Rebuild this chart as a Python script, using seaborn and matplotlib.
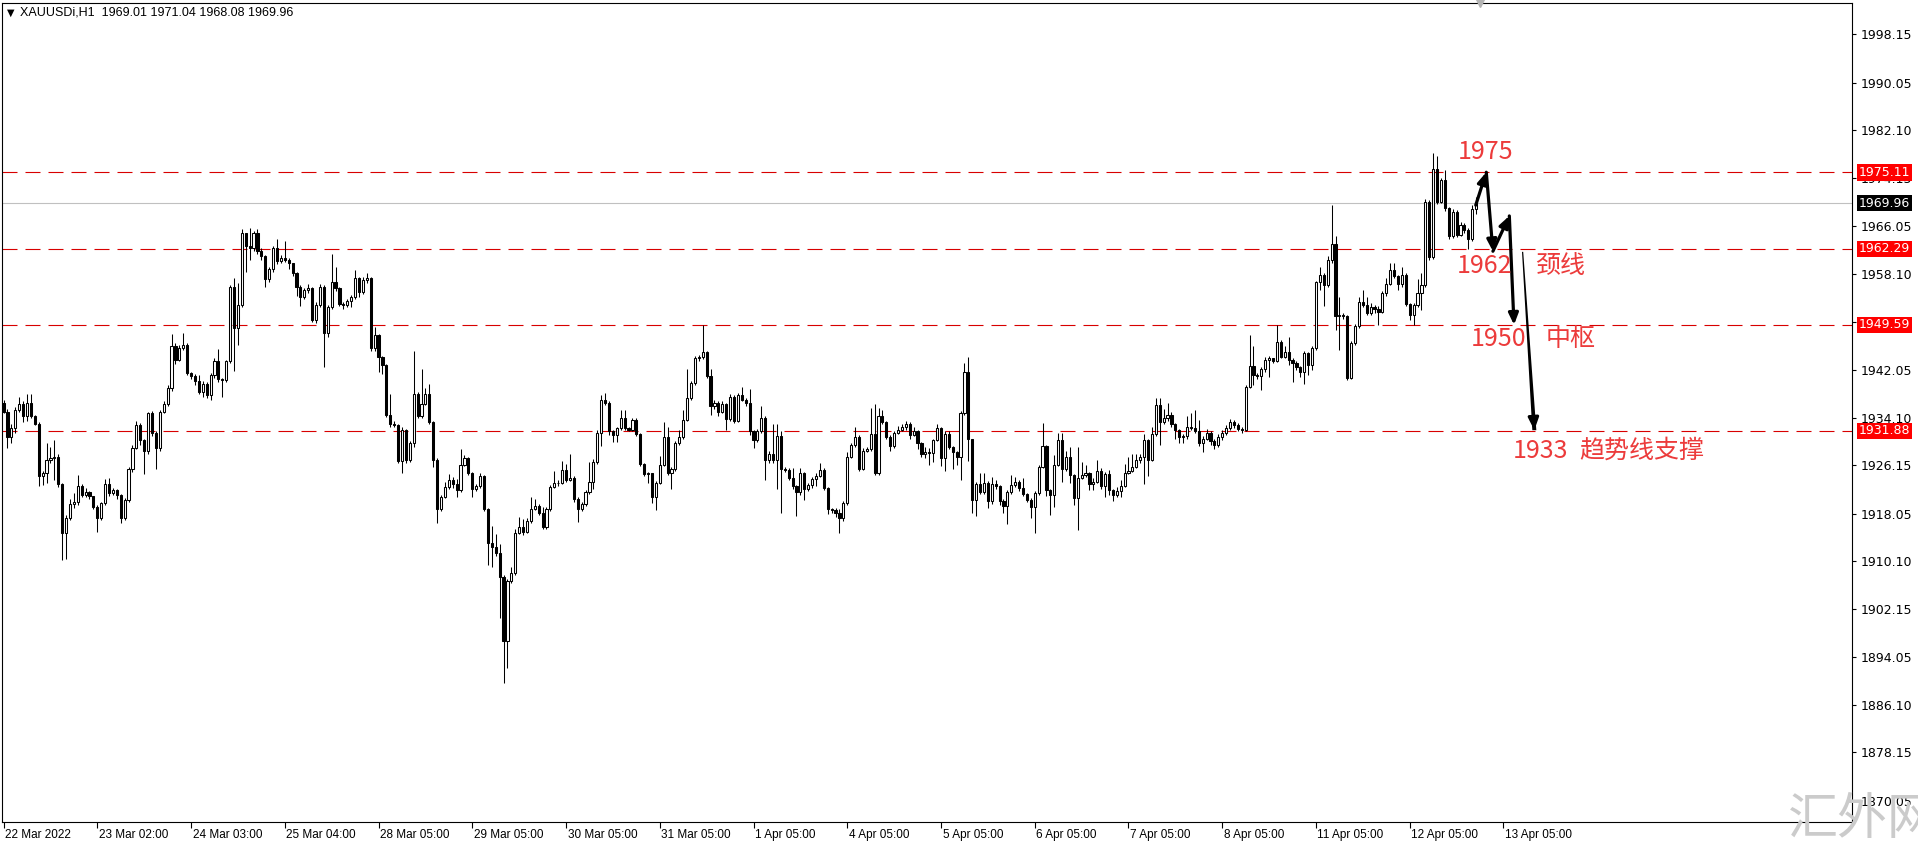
import numpy as np
import pandas as pd
import matplotlib
matplotlib.use('Agg')
from matplotlib import pyplot as plt
from matplotlib import transforms
import seaborn as sns

sns.set_theme(context='paper', style='white')
plt.rcParams['font.family'] = ['DejaVu Sans']

# XAUUSDi H1 candles (open = previous close)
first_open = 1936.6
close = [
    1935.1, 1930.8, 1932.4, 1935.4, 1936.4, 1934.4, 1936.6, 1934.3, 1933.1, 1924.4,
    1924.8, 1927.0, 1927.3, 1927.6, 1923.0, 1914.8, 1917.4, 1919.7, 1920.0, 1922.7,
    1921.2, 1921.6, 1921.0, 1919.2, 1917.4, 1919.8, 1923.0, 1921.5, 1922.0, 1921.1,
    1917.3, 1920.3, 1925.5, 1929.1, 1932.9, 1930.3, 1928.5, 1934.8, 1931.5, 1929.1,
    1935.1, 1936.4, 1939.0, 1946.1, 1943.8, 1945.8, 1946.2, 1941.6, 1941.1, 1940.2,
    1938.4, 1939.8, 1937.9, 1941.2, 1943.6, 1940.5, 1940.4, 1943.5, 1955.9, 1949.0,
    1953.0, 1964.9, 1962.7, 1962.5, 1964.9, 1962.0, 1961.1, 1957.2, 1958.9, 1962.4,
    1960.2, 1960.7, 1960.5, 1959.9, 1958.3, 1955.9, 1954.3,
    1955.4, 1955.7, 1950.4, 1952.9, 1956.0, 1948.2, 1952.6, 1956.8, 1955.7, 1953.1,
    1952.9, 1953.6, 1954.3, 1957.4, 1955.1, 1957.1, 1957.4, 1945.7, 1947.9, 1944.2,
    1942.9, 1934.6, 1933.0, 1932.9, 1926.9, 1932.0, 1927.0, 1929.8, 1938.0, 1934.3,
    1936.4, 1938.0, 1933.3, 1927.1, 1918.8, 1920.9, 1922.5, 1923.7, 1923.0, 1922.0,
    1926.2, 1927.4, 1924.9, 1922.1, 1922.6, 1924.3, 1918.9, 1913.2, 1912.4, 1911.5,
    1907.5, 1896.7, 1906.8, 1908.2, 1914.9, 1915.9, 1915.0, 1916.9, 1918.9, 1919.3,
    1918.2, 1915.9, 1918.8, 1922.5, 1923.1, 1923.2, 1925.4, 1923.7, 1924.0, 1920.5,
    1918.9, 1919.6, 1921.6, 1923.4,
    1926.7, 1931.5, 1937.1, 1936.6, 1931.8, 1931.2, 1932.3, 1934.0, 1932.3, 1932.1,
    1933.7, 1931.4, 1926.4, 1924.7, 1924.8, 1920.8, 1923.2, 1926.2, 1930.9, 1924.9,
    1925.5, 1929.9, 1930.8, 1933.7, 1937.3, 1939.9, 1944.0, 1944.2, 1945.0, 1941.1,
    1936.0, 1936.6, 1935.1, 1936.4, 1933.8, 1937.6, 1933.6, 1937.9, 1937.1, 1936.5,
    1931.9, 1930.3, 1931.8, 1934.0, 1927.0, 1928.1, 1927.0, 1931.0, 1925.5, 1925.4,
    1924.0, 1922.6, 1921.6, 1924.9, 1922.1, 1922.8, 1923.8, 1924.4, 1925.3, 1922.3,
    1918.8, 1918.6, 1918.2, 1917.3, 1919.8, 1927.6, 1929.5, 1930.9, 1925.5, 1928.6,
    1928.8, 1931.4, 1924.9, 1934.4, 1933.4, 1930.9, 1929.3, 1931.6,
    1932.1, 1932.6, 1933.0, 1931.2, 1931.9, 1929.8, 1928.0, 1928.4, 1928.2, 1930.4,
    1932.3, 1927.3, 1931.4, 1929.2, 1928.4, 1927.5, 1934.8, 1941.8, 1930.5, 1920.4,
    1923.0, 1921.7, 1923.2, 1920.1, 1923.0, 1922.7, 1920.2, 1919.3, 1921.7, 1922.8,
    1923.4, 1922.4, 1921.3, 1920.4, 1919.2, 1921.5, 1925.9, 1929.4, 1922.0, 1921.1,
    1926.2, 1930.3, 1925.5, 1927.6, 1924.5, 1920.6, 1924.0, 1924.5, 1924.9, 1923.0,
    1923.4, 1925.2, 1922.6, 1924.7, 1922.0, 1921.2, 1921.9, 1922.7, 1924.8, 1925.2,
    1925.8, 1927.1, 1927.5, 1930.4, 1927.1, 1931.4, 1936.2, 1933.4, 1934.0, 1934.5,
    1933.0, 1932.0, 1930.9, 1931.0, 1932.5, 1932.4, 1931.8, 1929.8, 1930.6,
    1931.5, 1930.2, 1929.5, 1930.8, 1931.6, 1932.4, 1933.3, 1932.9, 1932.2, 1932.0,
    1939.2, 1942.7, 1941.2, 1941.1, 1942.2, 1943.8, 1944.0, 1943.6, 1946.8, 1944.3,
    1945.1, 1943.8, 1943.3, 1942.5, 1941.8, 1944.9, 1942.9, 1945.7, 1956.7, 1957.9,
    1956.3, 1960.4, 1963.1, 1951.1, 1951.3, 1951.1, 1940.7, 1946.5, 1949.4, 1953.5,
    1952.9, 1951.6, 1952.6, 1952.2, 1951.8, 1954.9, 1956.4, 1958.8, 1957.7, 1956.4,
    1957.9, 1953.1, 1951.2, 1952.9, 1954.9, 1956.3, 1970.2, 1961.0, 1975.6, 1970.2,
    1973.8, 1969.1, 1964.4, 1968.5, 1964.6, 1966.3, 1965.4, 1963.9, 1969.0, 1969.96,
]
high = [
    1937.0, 1935.5, 1933.0, 1935.9, 1937.5, 1936.8, 1938.0, 1938.0, 1934.5, 1933.3,
    1925.2, 1929.8, 1929.2, 1930.4, 1928.0, 1923.2, 1917.8, 1920.5, 1921.5, 1924.5,
    1923.0, 1922.4, 1921.8, 1921.0, 1919.5, 1920.0, 1923.8, 1924.0, 1922.3, 1922.2,
    1921.3, 1920.6, 1925.8, 1929.5, 1933.6, 1933.2, 1930.6, 1935.0, 1935.2, 1931.8,
    1935.4, 1936.8, 1939.5, 1948.0, 1946.5, 1946.3, 1948.3, 1946.5, 1941.8, 1941.4,
    1941.3, 1940.2, 1940.0, 1941.5, 1944.0, 1945.6, 1940.8, 1943.8, 1956.3, 1957.5,
    1956.6, 1965.6, 1965.0, 1965.8, 1965.3, 1965.6, 1962.4, 1961.3, 1959.3, 1962.8,
    1963.9, 1961.2, 1963.6, 1960.7, 1960.0, 1958.5, 1956.2,
    1955.8, 1956.5, 1956.0, 1953.5, 1956.4, 1956.3, 1953.0, 1961.4, 1959.3, 1955.9,
    1953.4, 1954.0, 1954.6, 1958.8, 1957.6, 1957.6, 1958.2, 1957.6, 1949.3, 1948.0,
    1944.4, 1943.0, 1938.0, 1933.5, 1933.0, 1932.5, 1932.2, 1930.2, 1945.2, 1938.3,
    1942.2, 1939.0, 1939.7, 1933.5, 1927.3, 1921.2, 1923.4, 1924.7, 1924.2, 1923.8,
    1928.9, 1927.8, 1927.6, 1925.0, 1923.0, 1924.8, 1924.5, 1919.0, 1916.0, 1914.7,
    1913.0, 1907.8, 1907.2, 1909.2, 1915.5, 1917.5, 1917.1, 1917.3, 1920.9, 1920.5,
    1919.6, 1919.2, 1919.2, 1922.8, 1925.1, 1923.6, 1926.9, 1926.4, 1928.0, 1924.3,
    1920.8, 1920.0, 1922.0, 1926.7,
    1927.2, 1932.0, 1937.9, 1938.2, 1936.9, 1932.0, 1932.6, 1935.4, 1935.4, 1932.5,
    1934.0, 1934.0, 1931.6, 1926.6, 1925.0, 1924.9, 1923.5, 1927.7, 1933.4, 1932.6,
    1925.8, 1930.2, 1932.0, 1935.4, 1942.2, 1940.3, 1944.4, 1944.6, 1949.6, 1945.3,
    1942.3, 1937.0, 1936.8, 1936.8, 1936.6, 1938.0, 1937.8, 1938.2, 1939.2, 1937.4,
    1938.8, 1932.0, 1932.2, 1936.0, 1934.3, 1928.5, 1933.0, 1933.0, 1931.8, 1925.9,
    1925.6, 1925.6, 1922.8, 1925.6, 1925.0, 1923.2, 1924.2, 1924.8, 1926.5, 1925.6,
    1922.5, 1919.0, 1919.0, 1918.8, 1920.2, 1928.4, 1929.9, 1932.6, 1931.2, 1929.0,
    1929.2, 1935.7, 1936.4, 1935.7, 1935.4, 1933.6, 1931.2, 1931.9,
    1932.7, 1933.0, 1933.6, 1933.3, 1932.6, 1932.1, 1930.0, 1929.2, 1929.0, 1930.6,
    1933.1, 1932.5, 1931.8, 1931.8, 1929.4, 1928.5, 1935.2, 1943.2, 1944.2, 1930.6,
    1923.4, 1924.9, 1924.8, 1923.5, 1924.2, 1923.6, 1922.8, 1920.5, 1922.0, 1924.5,
    1924.1, 1923.6, 1924.0, 1921.5, 1920.6, 1921.8, 1926.2, 1933.2, 1929.6, 1922.2,
    1927.9, 1931.6, 1931.6, 1928.6, 1929.2, 1924.7, 1929.2, 1926.7, 1926.2, 1925.0,
    1924.0, 1927.0, 1925.6, 1925.0, 1925.3, 1922.2, 1922.5, 1923.7, 1926.4, 1927.6,
    1928.0, 1928.1, 1928.1, 1931.4, 1930.6, 1932.6, 1937.3, 1937.3, 1935.5, 1936.5,
    1935.1, 1933.2, 1932.2, 1931.3, 1934.3, 1934.8, 1935.3, 1933.7, 1931.0,
    1932.2, 1931.8, 1930.6, 1931.3, 1932.0, 1932.9, 1933.8, 1933.7, 1933.2, 1932.6,
    1939.6, 1947.9, 1946.0, 1941.6, 1942.6, 1944.3, 1944.4, 1944.1, 1949.6, 1947.1,
    1946.0, 1947.5, 1944.0, 1943.6, 1942.8, 1945.3, 1945.1, 1946.0, 1957.0, 1959.2,
    1958.2, 1961.1, 1969.6, 1964.4, 1954.2, 1951.6, 1951.3, 1946.9, 1949.8, 1954.2,
    1955.5, 1954.2, 1953.2, 1953.0, 1952.8, 1955.2, 1957.4, 1960.0, 1960.0, 1957.9,
    1959.3, 1958.2, 1953.3, 1953.2, 1957.2, 1958.2, 1970.6, 1970.5, 1978.3, 1977.8,
    1974.2, 1975.5, 1969.3, 1968.9, 1968.8, 1966.8, 1966.7, 1965.8, 1969.6, 1971.04,
]
low = [
    1934.8, 1929.0, 1929.8, 1931.5, 1935.0, 1933.3, 1933.5, 1934.0, 1932.8, 1922.6,
    1922.8, 1923.1, 1926.5, 1923.7, 1922.5, 1910.3, 1910.4, 1917.0, 1919.0, 1919.5,
    1920.8, 1920.9, 1920.5, 1918.8, 1915.0, 1917.0, 1919.5, 1921.0, 1921.2, 1920.5,
    1916.5, 1917.0, 1920.0, 1925.0, 1928.8, 1929.5, 1924.7, 1928.0, 1931.0, 1925.5,
    1928.5, 1934.8, 1936.0, 1938.5, 1943.0, 1943.5, 1945.4, 1941.2, 1940.5, 1939.6,
    1938.0, 1937.5, 1937.3, 1937.0, 1940.8, 1940.0, 1937.5, 1940.0, 1943.2, 1941.9,
    1946.2, 1952.5, 1958.5, 1960.4, 1962.0, 1961.5, 1960.5, 1955.9, 1956.8, 1958.5,
    1959.7, 1960.0, 1960.1, 1959.0, 1957.8, 1954.5, 1952.8,
    1954.0, 1955.0, 1950.0, 1949.9, 1952.5, 1942.6, 1947.5, 1952.3, 1955.2, 1952.7,
    1952.3, 1952.6, 1952.5, 1954.0, 1954.2, 1954.8, 1956.6, 1945.3, 1945.2, 1941.8,
    1941.4, 1934.2, 1932.6, 1932.5, 1926.5, 1924.9, 1926.6, 1926.7, 1929.2, 1934.0,
    1934.0, 1936.2, 1933.0, 1925.8, 1916.5, 1918.5, 1920.6, 1922.2, 1922.4, 1920.9,
    1921.7, 1926.0, 1924.5, 1920.9, 1921.8, 1922.3, 1918.5, 1909.5, 1909.1, 1911.0,
    1900.6, 1889.7, 1892.2, 1906.5, 1907.8, 1914.6, 1914.5, 1914.8, 1916.5, 1918.6,
    1917.8, 1915.5, 1915.5, 1918.5, 1922.3, 1922.7, 1923.0, 1923.3, 1923.5, 1920.0,
    1916.7, 1918.5, 1919.3, 1921.3,
    1922.1, 1926.3, 1929.4, 1936.2, 1931.2, 1930.1, 1930.1, 1932.0, 1932.0, 1931.8,
    1931.9, 1931.0, 1926.0, 1924.3, 1923.2, 1919.8, 1918.7, 1923.0, 1926.0, 1924.5,
    1922.1, 1925.2, 1929.6, 1930.5, 1933.5, 1937.0, 1939.6, 1943.6, 1943.9, 1940.8,
    1934.5, 1935.6, 1934.3, 1934.8, 1932.1, 1933.5, 1933.2, 1933.3, 1936.8, 1936.0,
    1931.2, 1929.1, 1930.0, 1931.5, 1923.7, 1926.6, 1926.6, 1922.1, 1918.2, 1925.0,
    1923.6, 1922.2, 1917.6, 1921.2, 1920.4, 1921.8, 1922.4, 1922.6, 1924.2, 1922.0,
    1918.0, 1918.2, 1917.5, 1914.9, 1916.9, 1919.5, 1927.3, 1929.2, 1925.1, 1925.3,
    1928.3, 1928.5, 1924.5, 1924.5, 1933.0, 1930.5, 1928.6, 1929.0,
    1931.4, 1931.8, 1932.1, 1930.5, 1931.0, 1928.8, 1927.6, 1927.3, 1926.2, 1926.7,
    1930.2, 1926.0, 1925.1, 1928.8, 1925.5, 1926.2, 1923.7, 1934.5, 1926.9, 1918.2,
    1917.7, 1921.3, 1921.3, 1919.0, 1919.6, 1922.2, 1919.5, 1918.1, 1916.3, 1921.4,
    1922.5, 1921.9, 1921.0, 1920.0, 1917.4, 1914.8, 1921.2, 1925.6, 1921.0, 1917.8,
    1919.2, 1926.0, 1923.4, 1925.2, 1923.1, 1919.5, 1915.3, 1923.8, 1924.1, 1922.0,
    1922.0, 1923.2, 1922.2, 1920.9, 1921.2, 1920.1, 1920.8, 1920.9, 1922.5, 1924.6,
    1925.0, 1925.6, 1926.6, 1923.0, 1924.3, 1926.8, 1931.0, 1929.5, 1933.1, 1933.5,
    1932.6, 1930.6, 1929.8, 1929.8, 1930.6, 1932.0, 1931.5, 1929.4, 1928.4,
    1930.4, 1929.6, 1928.9, 1929.2, 1930.4, 1931.2, 1932.0, 1932.4, 1931.8, 1931.6,
    1931.8, 1939.0, 1939.5, 1940.6, 1938.7, 1941.8, 1940.9, 1943.3, 1943.4, 1944.0,
    1944.0, 1942.9, 1940.1, 1942.0, 1940.9, 1939.7, 1941.2, 1942.1, 1945.4, 1955.5,
    1952.8, 1955.9, 1960.0, 1948.7, 1945.4, 1950.5, 1940.4, 1940.5, 1946.2, 1949.0,
    1952.6, 1951.3, 1951.3, 1951.5, 1949.6, 1951.6, 1954.4, 1956.2, 1957.4, 1955.4,
    1956.0, 1952.8, 1950.4, 1949.6, 1952.6, 1952.1, 1956.0, 1960.4, 1960.6, 1969.8,
    1969.9, 1968.7, 1964.0, 1964.1, 1964.2, 1964.4, 1965.0, 1962.3, 1963.6, 1968.08,
]

levels = [1975.11, 1962.29, 1949.59, 1931.88]
bid = 1969.96
price_ticks = [1998.15, 1990.05, 1982.10, 1974.15, 1966.05, 1958.10, 1950.15, 1942.05,
               1934.10, 1926.15, 1918.05, 1910.10, 1902.15, 1894.05, 1886.10, 1878.15, 1870.05]
time_labels = ['22 Mar 2022', '23 Mar 02:00', '24 Mar 03:00', '25 Mar 04:00', '28 Mar 05:00',
               '29 Mar 05:00', '30 Mar 05:00', '31 Mar 05:00', '1 Apr 05:00', '4 Apr 05:00',
               '5 Apr 05:00', '6 Apr 05:00', '7 Apr 05:00', '8 Apr 05:00', '11 Apr 05:00',
               '12 Apr 05:00', '13 Apr 05:00']
bars_per_label = 24

# hand drawn forecast: bar index / price
path_x = [376.9, 379.6, 381.3, 385.5, 386.7]
path_y = [1969.6, 1975.1, 1961.9, 1967.8, 1949.6]
trend_x = [388.9, 391.9]
trend_y = [1961.8, 1932.0]
notes = [('1975', 372.4, 1978.5), ('1962', 372.1, 1959.4), ('颈线', 392.1, 1959.4),
         ('1950', 375.5, 1947.2), ('中枢', 394.9, 1947.2),
         ('1933', 386.5, 1928.5), ('趋势线支撑', 403.4, 1928.5)]

df = pd.DataFrame({'close': close, 'high': high, 'low': low})
df['open'] = df['close'].shift(1).fillna(first_open)
df['x'] = np.arange(len(df))
up = df[df['close'] >= df['open']]
dn = df[df['close'] < df['open']]

W, H = 1918, 843
bar_px = 3.906
fig = plt.figure(figsize=(W / 100, H / 100), dpi=100)
fig.patch.set_facecolor('white')
ax = fig.add_axes([2 / W, 21 / H, 1850 / W, 819 / H])
ax.set_facecolor('white')

for lvl in levels:
    ax.axhline(lvl, color='#d80000', lw=0.8, dashes=(13.5, 7.2), zorder=1)
ax.axhline(bid, color='#c0c0c0', lw=0.8, zorder=1)

ax.vlines(df['x'], df['low'], df['high'], color='black', lw=0.75, zorder=2)
ax.bar(up['x'], up['close'] - up['open'], bottom=up['open'], width=0.55,
       color='white', edgecolor='black', linewidth=0.75, zorder=3)
ax.bar(dn['x'], dn['open'] - dn['close'], bottom=dn['close'], width=0.55,
       color='black', edgecolor='black', linewidth=0.75, zorder=3)

for i in range(len(path_x) - 1):
    ax.annotate('', xy=(path_x[i + 1], path_y[i + 1]), xytext=(path_x[i], path_y[i]),
                arrowprops=dict(arrowstyle='-|>,head_length=0.7,head_width=0.3',
                                color='black', lw=2.3, shrinkA=0, shrinkB=0), zorder=6)

# long trend arrow: shaft widens from ~1 px to ~4 px, then a head
top_half = 0.6 / bar_px
bot_half = 2.0 / bar_px
ax.fill([trend_x[0] - top_half, trend_x[0] + top_half, trend_x[1] + bot_half, trend_x[1] - bot_half],
        [trend_y[0], trend_y[0], trend_y[1], trend_y[1]], color='black', lw=0, zorder=6)
ax.annotate('', xy=(trend_x[1], trend_y[1]),
            xytext=(trend_x[1] - (trend_x[1] - trend_x[0]) * 0.08,
                    trend_y[1] - (trend_y[1] - trend_y[0]) * 0.08),
            arrowprops=dict(arrowstyle='-|>,head_length=0.75,head_width=0.32',
                            color='black', lw=2.2, shrinkA=0, shrinkB=0), zorder=6)

for txt, x, y in notes:
    ax.text(x, y, txt, color='#ec3b3b', fontsize=18, ha='left', va='center',
            family=['Noto Sans CJK SC', 'DejaVu Sans'], zorder=7)

ax.set_xlim(-0.4, -0.4 + 1850 / bar_px)
ax.set_ylim(1866.53, 2003.38)

ax.yaxis.tick_right()
ax.set_yticks(price_ticks)
ax.set_yticklabels([f'{v:.2f}' for v in price_ticks])
ax.tick_params(axis='y', direction='out', length=3, width=0.8, pad=3,
               labelsize=9, colors='black', right=True, left=False)
tick_pos = np.arange(len(time_labels)) * bars_per_label
ax.set_xticks(tick_pos)
ax.set_xticklabels(time_labels, ha='left')
ax.tick_params(axis='x', direction='out', length=4, width=0.8, pad=1,
               labelsize=8.5, colors='black', bottom=True)
shift = transforms.ScaledTranslation(1.5 / 100, 0, fig.dpi_scale_trans)
for lbl in ax.get_xticklabels():
    lbl.set_fontfamily('Liberation Sans')
    lbl.set_transform(lbl.get_transform() + shift)
ax.grid(False)
for s in ax.spines.values():
    s.set_visible(True)
    s.set_color('black')
    s.set_linewidth(0.8)

side = transforms.blended_transform_factory(ax.transAxes, ax.transData)
for lvl in levels:
    ax.text(1.0035, lvl, f'{lvl:.2f}', transform=side, ha='left', va='center', fontsize=9,
            color='white', bbox=dict(boxstyle='square,pad=0.15', fc='#ff0000', ec='none'),
            clip_on=False, zorder=10)
ax.text(1.0035, bid, f'{bid:.2f}', transform=side, ha='left', va='center', fontsize=9,
        color='white', bbox=dict(boxstyle='square,pad=0.15', fc='black', ec='none'),
        clip_on=False, zorder=10)

top = transforms.blended_transform_factory(ax.transData, ax.transAxes)
ax.plot([len(df)], [1.0], marker='v', ms=6, color='#b4b4b4', transform=top,
        clip_on=False, zorder=8)

fig.text(7 / W, 1 - 12.5 / H, '▼', fontsize=7, va='center', ha='left', color='black')
fig.text(20 / W, 1 - 12.5 / H, 'XAUUSDi,H1  1969.01 1971.04 1968.08 1969.96',
         fontsize=9, va='center', ha='left', family='Liberation Sans', color='black')
fig.text(1788 / W, 1 - 794 / H, '汇外网', fontsize=36, color='#cbcbcb', va='top', ha='left',
         family=['Noto Sans CJK SC'], zorder=20)

fig.savefig('out.png', dpi=100, facecolor='white')
